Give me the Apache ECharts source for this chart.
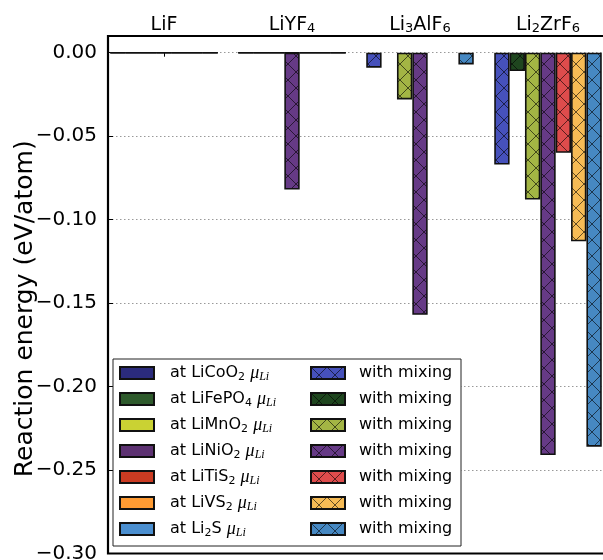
<!DOCTYPE html>
<html>
<head>
<meta charset="utf-8">
<script src="https://cdn.jsdelivr.net/npm/echarts@6/dist/echarts.min.js"></script>
<style>
  html, body { margin: 0; padding: 0; background: #fff; }
  #chart { width: 603px; height: 560px; }
</style>
</head>
<body>
<div id="chart"></div>
<script>
// Coating compounds (top category axis)
const compounds = ['LiF', 'LiYF4', 'Li3AlF6', 'Li2ZrF6'];
// Cathodes setting the lithium chemical potential
const cathodes = ['LiCoO2', 'LiFePO4', 'LiMnO2', 'LiNiO2', 'LiTiS2', 'LiVS2', 'Li2S'];

// Reaction energy (eV/atom) at the cathode's mu_Li, one value per compound
const atLiCoO2  = [0, 0, null, null];
const atLiFePO4 = [0, 0, null, null];
const atLiMnO2  = [0, 0, null, null];
const atLiNiO2  = [0, 0, null, null];
const atLiTiS2  = [0, 0, null, null];
const atLiVS2   = [0, 0, null, null];
const atLi2S    = [0, 0, null, null];

// Reaction energy (eV/atom) with mixing against the cathode
const mixLiCoO2  = [0, 0, -0.009, -0.067];
const mixLiFePO4 = [0, 0, null, -0.011];
const mixLiMnO2  = [0, 0, -0.028, -0.088];
const mixLiNiO2  = [0, -0.082, -0.157, -0.241];
const mixLiTiS2  = [0, 0, null, -0.060];
const mixLiVS2   = [0, 0, null, -0.113];
const mixLi2S    = [0, 0, -0.007, -0.236];

// Y axis range and tick step
const yMin = -0.30;
const yMax = 0.01;
const yStep = 0.05;

const atValues  = [atLiCoO2, atLiFePO4, atLiMnO2, atLiNiO2, atLiTiS2, atLiVS2, atLi2S];
const mixValues = [mixLiCoO2, mixLiFePO4, mixLiMnO2, mixLiNiO2, mixLiTiS2, mixLiVS2, mixLi2S];

const plainColors = ['#2b2b7c', '#2e5a2c', '#cad233', '#5d3272', '#cb3b22', '#ff9b33', '#4b8fd0'];
const mixColors   = ['#4651bb', '#1f461f', '#a3b544', '#663a86', '#de4c4c', '#f6bb55', '#4688c2'];

const FONT = 'DejaVu Sans';

// Cross-hatch fill over a base colour
function hatch(color) {
  const s = 16;
  const c = document.createElement('canvas');
  c.width = s; c.height = s;
  const g = c.getContext('2d');
  g.fillStyle = color;
  g.fillRect(0, 0, s, s);
  g.strokeStyle = 'rgba(0,0,0,0.6)';
  g.lineWidth = 1;
  g.beginPath();
  g.moveTo(-1, -1); g.lineTo(s + 1, s + 1);
  g.moveTo(s + 1, -1); g.lineTo(-1, s + 1);
  g.stroke();
  return { image: c, repeat: 'repeat' };
}

// Chemical formula with digit subscripts as rich text
function chem(str) {
  return str.replace(/(\d+)/g, '{s|$1}');
}

const legendText = {};
const series = [];
const legendData = [];

cathodes.forEach(function (cat, i) {
  const name = 'at ' + cat;
  legendText[name] = 'at ' + chem(cat) + ' {mu|μ}{li|Li}';
  legendData.push({ name: name, textStyle: { width: 134, padding: [0, 0, 0, 11] } });
  series.push({
    type: 'bar',
    name: name,
    xAxisIndex: 0,
    data: atValues[i],
    barGap: 0,
    barCategoryGap: '16%',
    itemStyle: { color: plainColors[i], borderColor: '#111', borderWidth: 1.6 },
    z: 2
  });
});

cathodes.forEach(function (cat, i) {
  const name = cat + ' with mixing';
  legendText[name] = 'with mixing';
  legendData.push({ name: name, textStyle: { width: 95, padding: [0, 0, 0, 9] } });
  series.push({
    type: 'bar',
    name: name,
    xAxisIndex: 1,
    data: mixValues[i],
    barGap: 0,
    barCategoryGap: '16%',
    itemStyle: { color: hatch(mixColors[i]), borderColor: '#111', borderWidth: 1.6 },
    z: 3
  });
});

function tickLabel(v) {
  const a = Math.abs(v).toFixed(2);
  return (v < -1e-9 ? '\u2212' : '') + a;
}

const chart = echarts.init(document.getElementById('chart'), null, { renderer: 'canvas' });

chart.setOption({
  animation: false,
  backgroundColor: '#fff',
  grid: { left: 100, top: 36, width: 512, height: 517.5, containLabel: false, outerBoundsMode: 'none' },
  xAxis: [
    {
      type: 'category',
      position: 'top',
      data: compounds,
      boundaryGap: true,
      axisLine: { show: false },
      axisTick: { show: true, inside: true, alignWithLabel: true, interval: 0, length: 4, lineStyle: { color: '#000', width: 1 } },
      axisLabel: {
        interval: 0,
        margin: 1,
        color: '#000',
        fontFamily: FONT,
        fontSize: 19,
        formatter: function (v) { return chem(v); },
        rich: {
          s: { fontSize: 13, fontFamily: FONT, color: '#000', verticalAlign: 'bottom', lineHeight: 12 }
        }
      },
      splitLine: { show: false }
    },
    {
      type: 'category',
      position: 'top',
      data: compounds,
      boundaryGap: true,
      show: false
    }
  ],
  yAxis: {
    type: 'value',
    min: yMin,
    max: yMax,
    interval: yStep,
    offset: -8,
    axisLine: { show: false },
    axisTick: { show: true, inside: true, length: 5, lineStyle: { color: '#000', width: 1 } },
    axisLabel: {
      formatter: tickLabel,
      fontFamily: FONT,
      fontSize: 20,
      color: '#000',
      margin: 11,
      showMaxLabel: false
    },
    splitLine: { show: true, lineStyle: { color: '#999', width: 1, type: [1.5, 2.5] } },
    name: 'Reaction energy (eV/atom)',
    nameLocation: 'middle',
    nameRotate: 90,
    nameGap: 70,
    nameMoveOverlap: false,
    nameTextStyle: { fontFamily: FONT, fontSize: 25, color: '#000', padding: [0, 28, 0, 0] }
  },
  legend: {
    orient: 'vertical',
    left: 113,
    top: 359,
    height: 180,
    itemWidth: 34,
    itemHeight: 12,
    itemGap: 6,
    padding: [4, 7, 7, 6],
    backgroundColor: '#fff',
    borderColor: '#222',
    borderWidth: 1,
    borderRadius: 0,
    icon: 'rect',
    selectedMode: false,
    data: legendData,
    formatter: function (name) { return legendText[name]; },
    textStyle: {
      fontFamily: FONT,
      fontSize: 16,
      color: '#000',
      lineHeight: 20,
      rich: {
        s: { fontSize: 11, fontFamily: FONT, color: '#000', verticalAlign: 'bottom', lineHeight: 12 },
        mu: { fontSize: 18, fontFamily: 'Liberation Serif', fontStyle: 'italic', color: '#000' },
        li: { fontSize: 12, fontFamily: 'Liberation Serif', fontStyle: 'italic', color: '#000', verticalAlign: 'bottom', lineHeight: 12 }
      }
    }
  },
  graphic: [
    {
      type: 'rect',
      z: 10,
      silent: true,
      shape: { x: 100, y: 35, width: 8, height: 520 },
      style: { fill: '#fff' }
    },
    {
      type: 'rect',
      z: 11,
      silent: true,
      shape: { x: 108, y: 36, width: 530, height: 517.5 },
      style: { fill: 'none', stroke: '#000', lineWidth: 2.2 }
    }
  ],
  series: series
});
</script>
</body>
</html>
